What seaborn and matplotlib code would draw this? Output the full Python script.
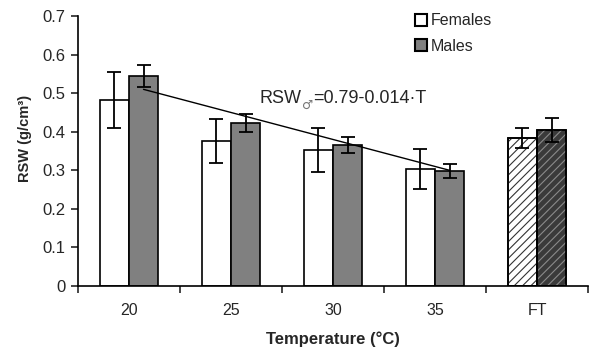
import numpy as np
import pandas as pd
import matplotlib
matplotlib.use("Agg")
import matplotlib.pyplot as plt
import seaborn as sns
from matplotlib.patches import Patch

sns.set_style("ticks")
plt.rcParams['font.family'] = ['Liberation Sans', 'DejaVu Sans']
plt.rcParams['hatch.linewidth'] = 0.8

# data
categories = ['20', '25', '30', '35', 'FT']
females = [0.482, 0.376, 0.353, 0.303, 0.384]
females_err = [0.073, 0.056, 0.057, 0.051, 0.026]
males = [0.545, 0.423, 0.366, 0.299, 0.405]
males_err = [0.028, 0.023, 0.020, 0.018, 0.031]

# fitted line for males: RSW = 0.79 - 0.014*T
fit_intercept = 0.79
fit_slope = -0.014
fit_temps = [20, 35]

df = pd.DataFrame({
    'temp': categories * 2,
    'rsw': females + males,
    'sex': ['Females'] * 5 + ['Males'] * 5,
})

fig = plt.figure(figsize=(5.93, 3.5), dpi=100)
ax = fig.add_axes([0.1315, 0.183, 0.8601, 0.771])

sns.barplot(data=df, x='temp', y='rsw', hue='sex', order=categories,
            palette={'Females': 'white', 'Males': '#808080'},
            width=0.57, edgecolor='black', linewidth=1.2, errorbar=None,
            legend=False, ax=ax)

bar_conts = list(ax.containers[:2])
errs = [females_err, males_err]
vals = [females, males]
centers = []
for k, cont in enumerate(bar_conts):
    xs = [p.get_x() + p.get_width() / 2 for p in cont]
    centers.append(xs)
    ax.errorbar(xs, vals[k], yerr=errs[k], fmt='none', ecolor='black',
                elinewidth=1.3, capsize=5, capthick=1.3, zorder=5)

# hatched FT bars
ft_styles = [('white', '#333333'), ('#3a3a3a', '#8a8a8a')]
for k, cont in enumerate(bar_conts):
    p = cont[-1]
    face, hcol = ft_styles[k]
    p.set_facecolor(face)
    ax.bar(p.get_x(), p.get_height(), width=p.get_width(), align='edge',
           facecolor='none', edgecolor=hcol, linewidth=0, hatch='////', zorder=p.get_zorder() + 0.1)
    ax.bar(p.get_x(), p.get_height(), width=p.get_width(), align='edge',
           facecolor='none', edgecolor='black', linewidth=1.2, zorder=p.get_zorder() + 0.2)

# regression line across male bars 20..35
x_line = [centers[1][0], centers[1][3]]
y_line = [fit_intercept + fit_slope * t for t in fit_temps]
ax.plot(x_line, y_line, color='black', linewidth=1.0, zorder=6)

# equation text
t1 = ax.text(1.275, 0.4745, 'RSW', fontsize=13, va='baseline', ha='left')
t2 = ax.annotate('\u2642', xy=(1, 0), xycoords=t1, xytext=(0.8, -3.4),
                 textcoords='offset points', fontsize=9, color='#777777',
                 family='DejaVu Sans', va='bottom', ha='left')
ax.annotate('=0.79-0.014\u00b7T', xy=(1, 0), xycoords=(t2, t1), xytext=(0.0, 0),
            textcoords='offset points', fontsize=13, va='bottom', ha='left')

ax.set_xlim(-0.5, 4.5)
ax.set_ylim(0, 0.7)
ax.set_yticks(np.arange(0, 0.71, 0.1))
ax.set_yticklabels(['0', '0.1', '0.2', '0.3', '0.4', '0.5', '0.6', '0.7'])
ax.set_xticks(range(5))
ax.set_xticklabels(categories)
ax.set_xticks(np.arange(-0.5, 4.6, 1), minor=True)
ax.tick_params(axis='x', which='major', length=0, pad=12, labelsize=11.5)
ax.tick_params(axis='x', which='minor', length=5, width=1.2, direction='out')
ax.tick_params(axis='y', length=5, width=1.2, labelsize=12, pad=4)
sns.despine(ax=ax)
for s in ['left', 'bottom']:
    ax.spines[s].set_linewidth(1.2)
    ax.spines[s].set_color('black')

ax.set_xlabel('Temperature (\u00b0C)', fontsize=12, fontweight='bold', labelpad=10)
ax.set_ylabel('RSW (g/cm\u00b3)', fontsize=10.5, fontweight='bold')
ax.yaxis.set_label_coords(-0.09, 0.545)

handles = [Patch(facecolor='white', edgecolor='black', linewidth=1.5, label='Females'),
           Patch(facecolor='#808080', edgecolor='black', linewidth=1.5, label='Males')]
fig.legend(handles=handles, loc='upper left', bbox_to_anchor=(0.686, 0.985),
           frameon=False, fontsize=11.5, handlelength=0.75, handleheight=0.75,
           handletextpad=0.25, labelspacing=0.65, borderpad=0)

fig.savefig('out.png', dpi=100)
